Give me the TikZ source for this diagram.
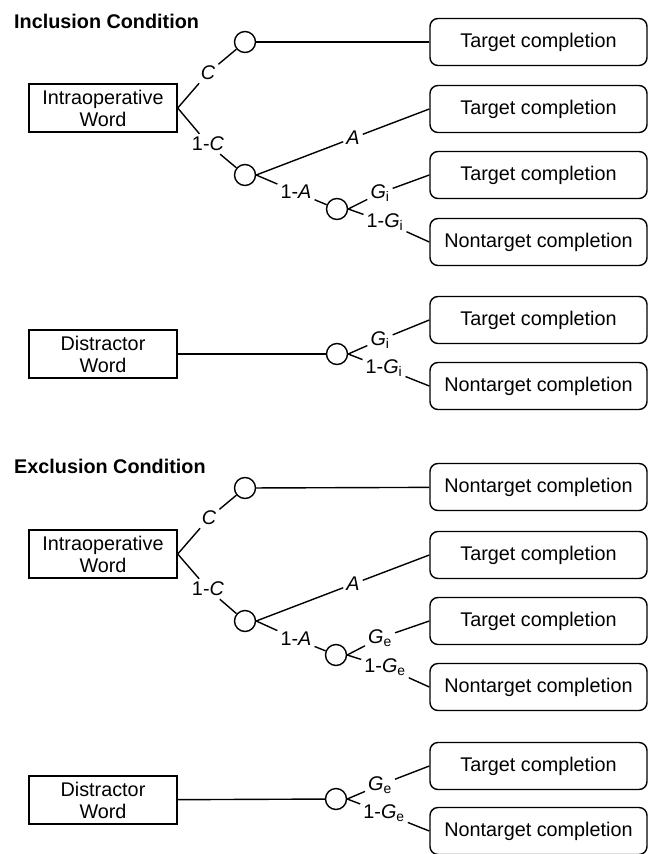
\documentclass[tikz,border=0pt]{standalone}
\usepackage{fontspec}
\setmainfont{Liberation Sans}
\tikzset{
  every node/.style={font=\fontsize{19.8}{22}\selectfont},
  wordbox/.style={draw, line width=1.4pt, minimum width=148pt, minimum height=48pt, align=center, inner sep=0pt},
  outbox/.style={draw, line width=1.4pt, rounded corners=8pt, minimum width=217pt, minimum height=47pt, inner sep=0pt},
  chance/.style={draw, circle, line width=1.4pt, minimum size=21pt, inner sep=0pt},
  prob/.style={inner sep=3pt},
  branch/.style={line width=1.4pt},
  heading/.style={anchor=west, inner sep=0pt, font=\fontsize{19.8}{22}\selectfont\bfseries},
}
\begin{document}
\begin{tikzpicture}[x=1pt,y=-1pt]
\useasboundingbox (0,0) rectangle (652,854);
% inclusion condition
\node[heading] (inctitle) at (14,21) {Inclusion Condition};
\node[wordbox] (iw1) at (103,108) {Intraoperative\\Word};
\node[chance] (c1) at (245,42) {};
\node[chance] (c2) at (245,175) {};
\node[chance] (c3) at (337,209) {};
\node[outbox] (t1) at (538.5,42) {Target completion};
\node[outbox] (t2) at (538.5,109) {Target completion};
\node[outbox] (t3) at (538.5,175) {Target completion};
\node[outbox] (n4) at (538.5,242) {Nontarget completion};
\node[prob] (lc1) at (208,73) {\textit{C}};
\node[prob] (lnc1) at (208,144) {1-\textit{C}};
\node[prob] (la1) at (353,138) {\textit{A}};
\node[prob] (lna1) at (296,192) {1-\textit{A}};
\node[prob] (lg1) at (380,193) {\textit{G}\textsubscript{i}};
\node[prob] (lng1) at (385,222) {1-\textit{G}\textsubscript{i}};
\draw[branch] (iw1.east) -- (lc1) -- (c1);
\draw[branch] (iw1.east) -- (lnc1) -- (c2);
\draw[branch] (c1) -- (t1);
\draw[branch] (c2.east) -- (la1) -- (t2.west);
\draw[branch] (c2.east) -- (lna1) -- (c3);
\draw[branch] (c3.east) -- (lg1) -- (t3.west);
\draw[branch] (c3.east) -- (lng1) -- (n4.west);
\node[wordbox] (dw1) at (103,354) {Distractor\\Word};
\node[chance] (c4) at (337,354) {};
\node[outbox] (t5) at (538.5,320) {Target completion};
\node[outbox] (n6) at (538.5,386) {Nontarget completion};
\node[prob] (lg2) at (380,340) {\textit{G}\textsubscript{i}};
\node[prob] (lng2) at (384,368) {1-\textit{G}\textsubscript{i}};
\draw[branch] (dw1) -- (c4);
\draw[branch] (c4.east) -- (lg2) -- (t5.west);
\draw[branch] (c4.east) -- (lng2) -- (n6.west);
% exclusion condition
\node[heading] (exctitle) at (14,466) {Exclusion Condition};
\node[wordbox] (iw2) at (103,554) {Intraoperative\\Word};
\node[chance] (c5) at (245,488) {};
\node[chance] (c6) at (245,621) {};
\node[chance] (c7) at (336,655) {};
\node[outbox] (n7) at (538.5,487) {Nontarget completion};
\node[outbox] (t8) at (538.5,555) {Target completion};
\node[outbox] (t9) at (538.5,621) {Target completion};
\node[outbox] (n10) at (538.5,687) {Nontarget completion};
\node[prob] (lc2) at (209,518) {\textit{C}};
\node[prob] (lnc2) at (208,589) {1-\textit{C}};
\node[prob] (la2) at (353,584) {\textit{A}};
\node[prob] (lna2) at (296,639) {1-\textit{A}};
\node[prob] (lg3) at (380,638) {\textit{G}\textsubscript{e}};
\node[prob] (lng3) at (385,667) {1-\textit{G}\textsubscript{e}};
\draw[branch] (iw2.east) -- (lc2) -- (c5);
\draw[branch] (iw2.east) -- (lnc2) -- (c6);
\draw[branch] (c5) -- (n7);
\draw[branch] (c6.east) -- (la2) -- (t8.west);
\draw[branch] (c6.east) -- (lna2) -- (c7);
\draw[branch] (c7.east) -- (lg3) -- (t9.west);
\draw[branch] (c7.east) -- (lng3) -- (n10.west);
\node[wordbox] (dw2) at (103,800) {Distractor\\Word};
\node[chance] (c8) at (336,799) {};
\node[outbox] (t11) at (538.5,766) {Target completion};
\node[outbox] (n12) at (538.5,831) {Nontarget completion};
\node[prob] (lg4) at (380,785) {\textit{G}\textsubscript{e}};
\node[prob] (lng4) at (384,813) {1-\textit{G}\textsubscript{e}};
\draw[branch] (dw2) -- (c8);
\draw[branch] (c8.east) -- (lg4) -- (t11.west);
\draw[branch] (c8.east) -- (lng4) -- (n12.west);
\end{tikzpicture}
\end{document}
